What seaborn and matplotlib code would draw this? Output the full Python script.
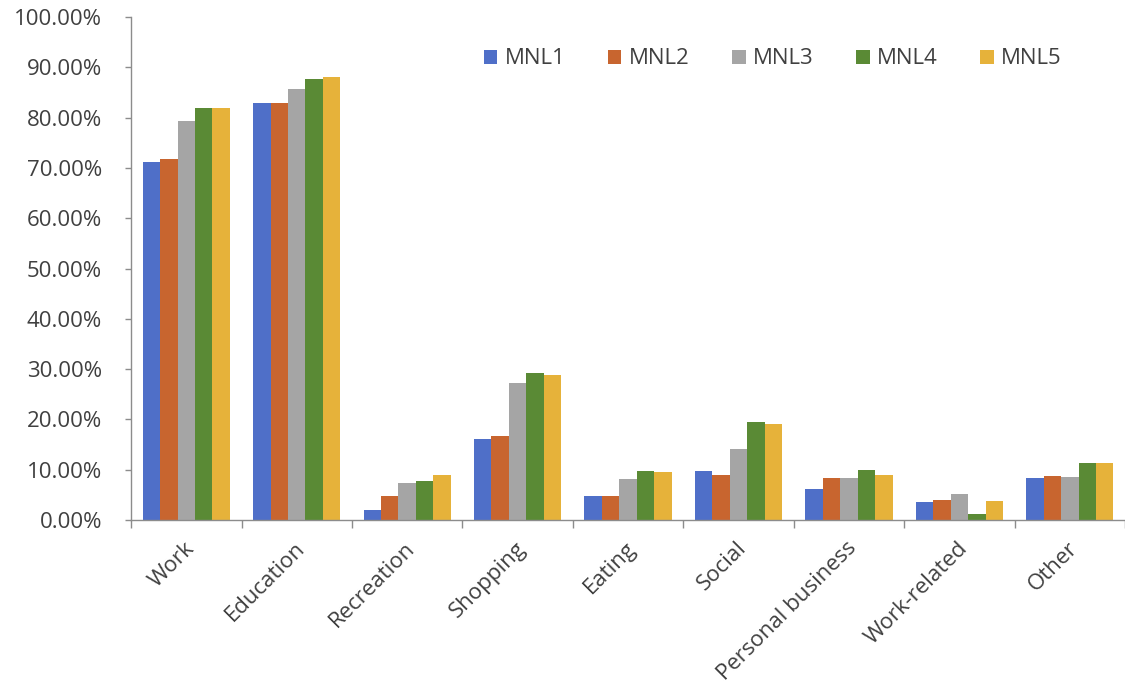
import matplotlib
matplotlib.use("Agg")
import matplotlib.pyplot as plt
import matplotlib.transforms as mtransforms
from matplotlib.ticker import FuncFormatter, FixedLocator
import pandas as pd
import seaborn as sns

# Purpose categories and prediction accuracy of each MNL model
categories = ["Work", "Education", "Recreation", "Shopping", "Eating",
              "Social", "Personal business", "Work-related", "Other"]
models = ["MNL1", "MNL2", "MNL3", "MNL4", "MNL5"]

mnl1 = [0.712, 0.830, 0.020, 0.162, 0.048, 0.098, 0.061, 0.036, 0.084]
mnl2 = [0.718, 0.829, 0.047, 0.167, 0.048, 0.090, 0.084, 0.039, 0.087]
mnl3 = [0.793, 0.857, 0.073, 0.272, 0.081, 0.142, 0.084, 0.051, 0.086]
mnl4 = [0.820, 0.877, 0.077, 0.293, 0.098, 0.194, 0.099, 0.012, 0.114]
mnl5 = [0.820, 0.881, 0.090, 0.288, 0.096, 0.190, 0.090, 0.037, 0.114]

colors = ["#4F6FC8", "#C8652F", "#A5A5A5", "#5A8A35", "#E6B23A"]

rows = []
for name, vals in zip(models, [mnl1, mnl2, mnl3, mnl4, mnl5]):
    for cat, v in zip(categories, vals):
        rows.append({"Purpose": cat, "Model": name, "Share": v})
df = pd.DataFrame(rows)

sns.set_theme(style="white")
plt.rcParams["font.family"] = ["Open Sans", "DejaVu Sans"]

fig = plt.figure(figsize=(11.25, 6.94), dpi=100)
ax = fig.add_axes([0.1165, 0.2507, 0.8835, 0.7248])

sns.barplot(data=df, x="Purpose", y="Share", hue="Model", order=categories,
            hue_order=models, palette=colors, width=0.79, saturation=1,
            linewidth=0, ax=ax)

ax.set_xlim(-0.5, len(categories) - 0.5)
ax.set_ylim(0, 1.0)
ax.set_xlabel("")
ax.set_ylabel("")

axis_grey = "#8C8C8C"
text_grey = "#404040"
for side in ["top", "right"]:
    ax.spines[side].set_visible(False)
for side in ["left", "bottom"]:
    ax.spines[side].set_color(axis_grey)
    ax.spines[side].set_linewidth(1.0)

ax.yaxis.set_major_locator(FixedLocator([i / 10 for i in range(11)]))
ax.yaxis.set_major_formatter(FuncFormatter(lambda v, _: f"{v * 100:.2f}%"))
ax.tick_params(axis="y", which="major", direction="out", length=4, width=1,
               color=axis_grey, pad=17, labelsize=16, labelcolor=text_grey, left=True)

# Category ticks sit between the groups; labels stay at the group centres
ax.set_xticks([i - 0.5 for i in range(len(categories) + 1)], minor=True)
ax.tick_params(axis="x", which="minor", direction="out", length=6, width=1,
               color=axis_grey, bottom=True)
ax.tick_params(axis="x", which="major", length=0, pad=18, labelsize=16,
               labelcolor=text_grey)
shift = mtransforms.ScaledTranslation(5 / 100, 0, fig.dpi_scale_trans)
for lbl in ax.get_xticklabels():
    lbl.set_rotation(45)
    lbl.set_ha("right")
    lbl.set_va("center")
    lbl.set_rotation_mode("anchor")
    lbl.set_transform(lbl.get_transform() + shift)

leg = ax.legend(loc="center right", bbox_to_anchor=(0.944, 0.915),
                bbox_transform=fig.transFigure, borderaxespad=0, borderpad=0,
                ncol=5, frameon=False, fontsize=16, handlelength=0.6,
                handleheight=0.6, handletextpad=0.35, columnspacing=1.9,
                labelcolor=text_grey)

fig.savefig("out.png", dpi=100)
